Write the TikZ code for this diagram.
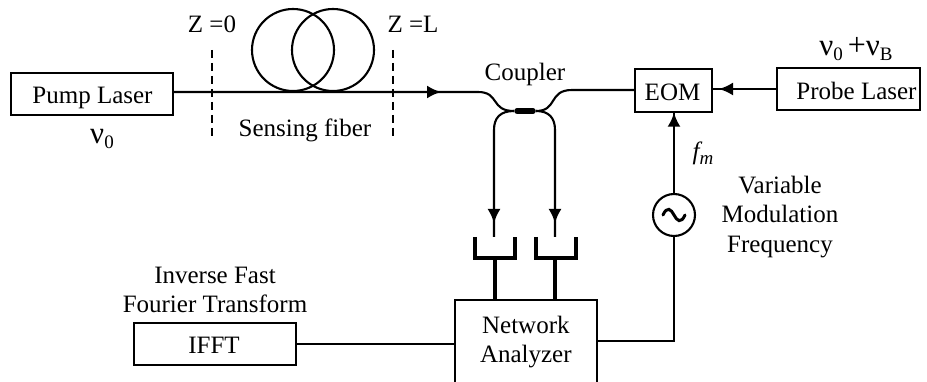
\documentclass[tikz,border=0pt]{standalone}
\usepackage{fontspec}
\setmainfont{Liberation Serif}
\usetikzlibrary{arrows.meta,calc}
\newcommand{\subtxt}[1]{\raisebox{-0.2em}{\fontsize{19}{19}\selectfont #1}}
\newcommand{\bignu}{{\fontsize{31}{31}\selectfont ν}}
\tikzset{
  x=1pt,y=-1pt,
  wire/.style={line width=1.7pt,black},
  fiber/.style={line width=2.1pt,black},
  thin box/.style={draw,line width=1.7pt,inner sep=0pt,anchor=north west},
  lab/.style={font=\fontsize{25}{29.5}\selectfont,inner sep=0pt,align=center},
  blab/.style={lab,anchor=base},
  cup/.style={line width=4.2pt,line join=miter,line cap=butt},
  tip/.style={-{Latex[length=14pt,width=13pt]}},
  cut/.style={line width=1.7pt,dash pattern=on 8pt off 5pt},
  coil/.style={line width=2.1pt},
}
\begin{document}
\begin{tikzpicture}
\useasboundingbox (0,0) rectangle (927,382);
% boxes
\node[thin box,minimum width=162pt,minimum height=42pt] (pump) at (10,72) {};
\node[thin box,minimum width=77pt,minimum height=43pt] (eom) at (634,68) {};
\node[thin box,minimum width=143pt,minimum height=42pt] (probe) at (776,67) {};
\node[thin box,minimum width=162pt,minimum height=42pt] (ifft) at (133,322) {};
\node[thin box,minimum width=142pt,minimum height=84pt,lab] (na) at (454,299) {Network\\Analyzer};
\node[circle,draw,line width=2.1pt,minimum size=42pt,inner sep=0pt] (osc) at (674,215) {};
% box labels
\node[blab] (tpump) at (92.5,104) {Pump Laser};
\node[blab] (teom) at (672.5,101) {EOM};
\node[blab] (tprobe) at (856.5,100) {Probe Laser};
\node[blab] (tifft) at (214,353) {IFFT};
% labels
\node[blab] (t1) at (212,33) {Z =0};
\node[blab] (t2) at (413,33) {Z =L};
\node[blab] (t3) at (305,137) {Sensing fiber};
\node[blab] (t4) at (102,144) {\bignu\subtxt{0}};
\node[blab] (t5) at (525,81) {Coupler};
\node[blab] (t6) at (856,56) {\bignu\subtxt{0}\hspace{5pt}{\fontsize{32}{32}\selectfont +}\hspace{0pt}\bignu\subtxt{B}};
\node[blab] (t7) at (703,160) {\textit{f\subtxt{\textit{m}}}};
\node[lab] (t8) at (780,217) {Variable\\Modulation\\Frequency};
\node[lab] (t9) at (215,290) {Inverse Fast\\Fourier Transform};
% sensing coil
\node[circle,draw,coil,minimum size=82pt,inner sep=0pt] (coilA) at (293,50) {};
\node[circle,draw,coil,minimum size=82pt,inner sep=0pt] (coilB) at (333,50) {};
% cuts
\coordinate (z0a) at (212,50); \coordinate (z0b) at (212,136);
\coordinate (zLa) at (393,50); \coordinate (zLb) at (393,136);
\draw[cut] (z0a) -- (z0b);
\draw[cut] (zLa) -- (zLb);
% coupler
\coordinate (cL) at (514,111); \coordinate (cR) at (536,111);
\coordinate (inA) at (478,92); \coordinate (inB) at (572,90);
\coordinate (fibTip) at (441,92);
\draw[fiber] (pump.east |- inA) -- (inA) .. controls (500,92) and (490,111) .. (cL);
\draw[fiber,tip] (pump.east |- inA) -- (fibTip);
\draw[line width=5.5pt,line cap=round] (cL) ++(3,0) -- ($(cR)+(-3,0)$);
\draw[fiber] (cR) .. controls (558,111) and (548,90) .. (inB) -- (eom.west |- inB);
% outputs
\coordinate (dA) at (494,237); \coordinate (dB) at (555,237);
\coordinate (tA) at (494,223); \coordinate (tB) at (555,223);
\draw[fiber] (cL) .. controls (500,111) and (494,118) .. (494,130) -- (dA);
\draw[fiber] (cR) .. controls (549,111) and (555,118) .. (555,130) -- (dB);
\draw[fiber,tip] (494,180) -- (tA);
\draw[fiber,tip] (555,180) -- (tB);
% detectors
\draw[cup] (475,237) -- (475,258) -- (515,258) -- (515,237);
\draw[cup] (536,237) -- (536,258) -- (576,258) -- (576,237);
\draw[cup] (495,258) -- (495,299);
\draw[cup] (555,258) -- (555,299);
% wires
\draw[wire] (ifft.east) -- (na.west |- ifft.east);
\draw[wire] (na.east |- 0,341) -- (osc.south |- 0,341) -- (osc.south);
\draw[fiber] (osc.north) -- (osc.north |- eom.south);
\draw[fiber,tip] (osc.north |- 0,135) -- (osc.north |- eom.south);
\draw[fiber] (probe.west |- 0,89) -- (eom.east |- 0,89);
\draw[fiber,tip] (probe.west |- 0,89) -- (719,89);
% sine
\draw[line width=3pt,line cap=round] (663,215) .. controls (667,206) and (671,209) .. (674,215) .. controls (677,221) and (681,224) .. (685,215);
\end{tikzpicture}
\end{document}
